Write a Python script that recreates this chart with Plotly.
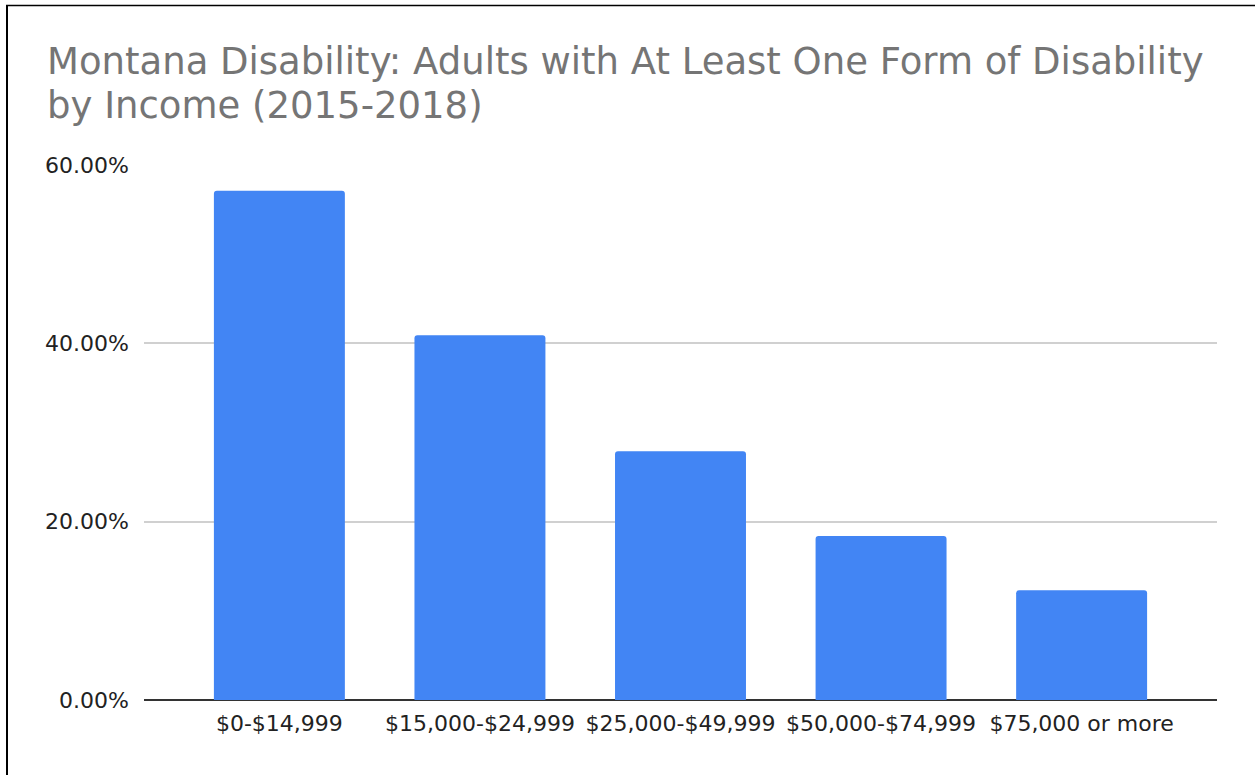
import plotly.graph_objects as go

# Share of Montana adults reporting at least one disability, by household income
income_brackets = ["$0-$14,999", "$15,000-$24,999", "$25,000-$49,999",
                   "$50,000-$74,999", "$75,000 or more"]
disability_share = [0.571, 0.409, 0.279, 0.184, 0.123]

y_ticks = [0.0, 0.2, 0.4, 0.6]
y_tick_labels = ["0.00%", "20.00%", "40.00%", "60.00%"]

title_lines = ["Montana Disability: Adults with At Least One Form of Disability",
               "by Income (2015-2018)"]

FONT = "DejaVu Sans, Liberation Sans, Arial, sans-serif"
W, H = 1255, 775
L, R, T, B = 144, 38, 165, 75

fig = go.Figure(
    go.Bar(
        x=list(range(len(income_brackets))),
        y=disability_share,
        marker=dict(color="#4285f4", line=dict(width=0)),
        width=0.653,
        hoverinfo="y",
    )
)

# pixel -> paper coordinate helpers for page decorations
pw, ph = W - L - R, H - T - B
def px_to_paper_x(px):
    return (px - L) / pw
def px_to_paper_y(py):
    return (H - B - py) / ph

# frame line along the left and top edge of the page
fig.add_shape(type="line", xref="paper", yref="paper",
              x0=px_to_paper_x(7), x1=px_to_paper_x(7),
              y0=px_to_paper_y(5), y1=px_to_paper_y(H + 2),
              line=dict(color="#000", width=2))
fig.add_shape(type="line", xref="paper", yref="paper",
              x0=px_to_paper_x(6), x1=px_to_paper_x(W + 2),
              y0=px_to_paper_y(5.5), y1=px_to_paper_y(5.5),
              line=dict(color="#000", width=1.5))

# two-line chart title, placed line by line for tighter leading
for i, line in enumerate(title_lines):
    fig.add_annotation(
        text=line, showarrow=False,
        xref="paper", yref="paper",
        x=px_to_paper_x(45), xanchor="left",
        y=px_to_paper_y(62 + 43 * i), yanchor="middle",
        font=dict(family=FONT, size=37, color="#757575"),
    )

fig.update_layout(
    width=W, height=H,
    margin=dict(l=L, r=R, t=T, b=B, pad=0),
    paper_bgcolor="white", plot_bgcolor="white",
    barcornerradius=3,
    showlegend=False,
    font=dict(family=FONT, color="#222222", size=22),
    xaxis=dict(
        tickmode="array",
        tickvals=list(range(len(income_brackets))),
        ticktext=income_brackets,
        range=[-0.675, 4.675],
        showgrid=False, zeroline=False, showline=False,
        ticks="", ticklabelstandoff=8,
        fixedrange=True,
    ),
    yaxis=dict(
        tickmode="array",
        tickvals=y_ticks,
        ticktext=y_tick_labels,
        range=[0, 0.6],
        showgrid=True, gridcolor="#d0d0d0", gridwidth=1.6,
        zeroline=True, zerolinecolor="#333333", zerolinewidth=2,
        showline=False, ticks="", ticklabelstandoff=14,
        fixedrange=True,
    ),
)

fig.write_html("out.html")
